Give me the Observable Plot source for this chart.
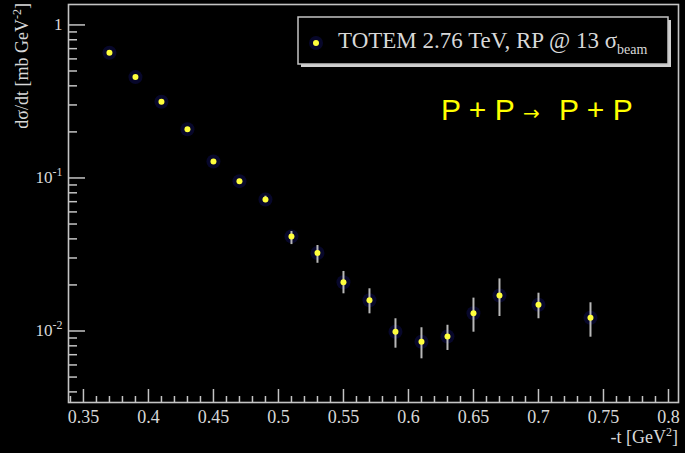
<!DOCTYPE html>
<html><head><meta charset="utf-8">
<script src="https://cdn.jsdelivr.net/npm/d3@7"></script>
<script src="https://cdn.jsdelivr.net/npm/@observablehq/plot@0.6"></script>
<style>html,body{margin:0;padding:0;background:#000;} #chart{width:685px;height:453px;}</style>
</head><body><div id="chart"></div>
<script>
// -t [GeV^2]
const t = [0.37, 0.39, 0.41, 0.43, 0.45, 0.47, 0.49, 0.51, 0.53, 0.55, 0.57, 0.59, 0.61, 0.63, 0.65, 0.67, 0.70, 0.74];
// dσ/dt [mb GeV^-2]
const dsdt = [0.658, 0.456, 0.315, 0.208, 0.128, 0.0953, 0.0724, 0.0415, 0.0323, 0.0208, 0.0159, 0.00988, 0.00850, 0.00920, 0.01307, 0.01706, 0.01483, 0.01220];
const errLow = [0.645, 0.447, 0.309, 0.203, 0.125, 0.0925, 0.0690, 0.0367, 0.0277, 0.0175, 0.01295, 0.00772, 0.00658, 0.00746, 0.00982, 0.01244, 0.01202, 0.00911];
const errHigh = [0.671, 0.465, 0.321, 0.213, 0.131, 0.0980, 0.0760, 0.0447, 0.0362, 0.0245, 0.01887, 0.01202, 0.01050, 0.01090, 0.01640, 0.02190, 0.01766, 0.01529];

const xMajorTicks = [0.35, 0.4, 0.45, 0.5, 0.55, 0.6, 0.65, 0.7, 0.75, 0.8];
const xTickLabels = ["0.35", "0.4", "0.45", "0.5", "0.55", "0.6", "0.65", "0.7", "0.75", "0.8"];
const xMinorTicks = [0.34, 0.36, 0.37, 0.38, 0.39, 0.41, 0.42, 0.43, 0.44, 0.46, 0.47, 0.48, 0.49, 0.51, 0.52, 0.53, 0.54, 0.56, 0.57, 0.58, 0.59, 0.61, 0.62, 0.63, 0.64, 0.66, 0.67, 0.68, 0.69, 0.71, 0.72, 0.73, 0.74, 0.76, 0.77, 0.78, 0.79];
const yMajorTicks = [0.01, 0.1, 1];
const yTickBase = ["10", "10", "1"];
const yTickExp = ["-2", "-1", ""];
const yMinorTicks = [0.004, 0.005, 0.006, 0.007, 0.008, 0.009, 0.02, 0.03, 0.04, 0.05, 0.06, 0.07, 0.08, 0.09, 0.2, 0.3, 0.4, 0.5, 0.6, 0.7, 0.8, 0.9];

const legendText = "TOTEM 2.76 TeV, RP @ 13 σ";
const legendSub = "beam";
const reactionLeft = "P + P";
const reactionArrow = "→";
const reactionRight = "P + P";
const xTitle = ["-t [GeV", "2", "]"];
const yTitle = ["dσ/dt [mb GeV", "-2", "]"];

const data = t.map((x, i) => ({t: x, v: dsdt[i], lo: errLow[i], hi: errHigh[i]}));
const axisColor = "#c4c4c4";
const textColor = "#d8d8d8";
const pointColor = "#ffff3c";
const glowColor = "#07072a";
const serif = "'Liberation Serif', serif";

const chart = Plot.plot({
  width: 685, height: 453,
  marginLeft: 68, marginRight: 7, marginTop: 4, marginBottom: 51,
  style: {background: "#000", color: textColor, fontFamily: serif, fontSize: "18px"},
  x: {domain: [0.3385, 0.8077], label: null},
  y: {type: "log", domain: [0.00341, 1.36], label: null},
  marks: [
    // inward ticks: drawn with the opposite anchor, placed on the frame side
    Plot.axisX({anchor: "top", frameAnchor: "bottom", ticks: xMinorTicks, tickSize: 7, tickFormat: () => "", label: null, stroke: axisColor, strokeWidth: 1.5}),
    Plot.axisX({anchor: "top", frameAnchor: "bottom", ticks: xMajorTicks, tickSize: 14, tickFormat: () => "", label: null, stroke: axisColor, strokeWidth: 1.5}),
    Plot.axisX({anchor: "bottom", ticks: xMajorTicks, tickSize: 0, tickPadding: 8, tickFormat: d => xTickLabels[xMajorTicks.indexOf(d)], label: null, fill: textColor}),
    Plot.axisY({anchor: "right", frameAnchor: "left", ticks: yMinorTicks, tickSize: 8, tickFormat: () => "", label: null, stroke: axisColor, strokeWidth: 1.5}),
    Plot.axisY({anchor: "right", frameAnchor: "left", ticks: yMajorTicks, tickSize: 16, tickFormat: () => "", label: null, stroke: axisColor, strokeWidth: 1.5}),
    Plot.axisY({anchor: "left", ticks: yMajorTicks, tickSize: 0, tickPadding: 6, fontSize: 17, tickFormat: d => { const i = yMajorTicks.indexOf(d); return yTickBase[i] + (yTickExp[i] ? "^" + yTickExp[i] : ""); }, label: null, fill: textColor}),
    Plot.frame({stroke: axisColor, strokeWidth: 1.6}),
    Plot.dot(data, {x: "t", y: "v", r: 7, fill: glowColor, stroke: null}),
    Plot.ruleX(data, {x: "t", y1: "lo", y2: "hi", stroke: "#b8b8b8", strokeWidth: 2}),
    Plot.dot(data, {x: "t", y: "v", r: 3, fill: pointColor, stroke: null})
  ]
});
document.getElementById("chart").appendChild(chart);

const svg = d3.select(chart);
// superscripts on y tick labels
svg.selectAll("g[aria-label='y-axis tick label'] text").each(function () {
  const s = d3.select(this).text();
  if (s.includes("^")) {
    const [b, e] = s.split("^");
    const el = d3.select(this);
    el.text(b);
    el.append("tspan").attr("dy", "-7").attr("font-size", "12px").text(e);
  }
});

// axis titles
const xt = svg.append("text").attr("x", 678).attr("y", 443).attr("text-anchor", "end")
  .attr("fill", textColor).attr("font-family", serif).attr("font-size", "18px");
xt.append("tspan").text(xTitle[0]);
xt.append("tspan").attr("dy", "-7").attr("font-size", "12px").text(xTitle[1]);
xt.append("tspan").attr("dy", "7").text(xTitle[2]);

const yt = svg.append("text").attr("transform", "translate(28,3) rotate(-90)").attr("text-anchor", "end")
  .attr("fill", textColor).attr("font-family", serif).attr("font-size", "18px");
yt.append("tspan").text(yTitle[0]);
yt.append("tspan").attr("dy", "-7").attr("font-size", "12px").text(yTitle[1]);
yt.append("tspan").attr("dy", "7").text(yTitle[2]);

// legend
const lg = svg.append("g");
lg.append("rect").attr("x", 301).attr("y", 20).attr("width", 370).attr("height", 47).attr("fill", "#d0d0d0");
lg.append("rect").attr("x", 298).attr("y", 17).attr("width", 370).attr("height", 47).attr("fill", "#000").attr("stroke", axisColor).attr("stroke-width", 1.5);
lg.append("circle").attr("cx", 316).attr("cy", 43).attr("r", 7).attr("fill", glowColor);
lg.append("circle").attr("cx", 316).attr("cy", 43).attr("r", 3).attr("fill", pointColor);
const lt = lg.append("text").attr("x", 338).attr("y", 48).attr("fill", textColor).attr("text-anchor", "start")
  .attr("font-family", serif).attr("font-size", "23px");
lt.append("tspan").text(legendText);
lt.append("tspan").attr("dy", "6").attr("font-size", "14px").text(legendSub);

// reaction annotation
const rt = svg.append("text").attr("y", 120).attr("fill", "#ffff00").attr("text-anchor", "start")
  .attr("font-family", "'Liberation Sans', Arial, sans-serif").attr("font-size", "30px");
rt.append("tspan").attr("x", 441).text(reactionLeft);
rt.append("tspan").attr("x", 523).attr("font-size", "20px").attr("font-family", "'DejaVu Sans', sans-serif").text(reactionArrow);
rt.append("tspan").attr("x", 559).text(reactionRight);
</script>
</body></html>
